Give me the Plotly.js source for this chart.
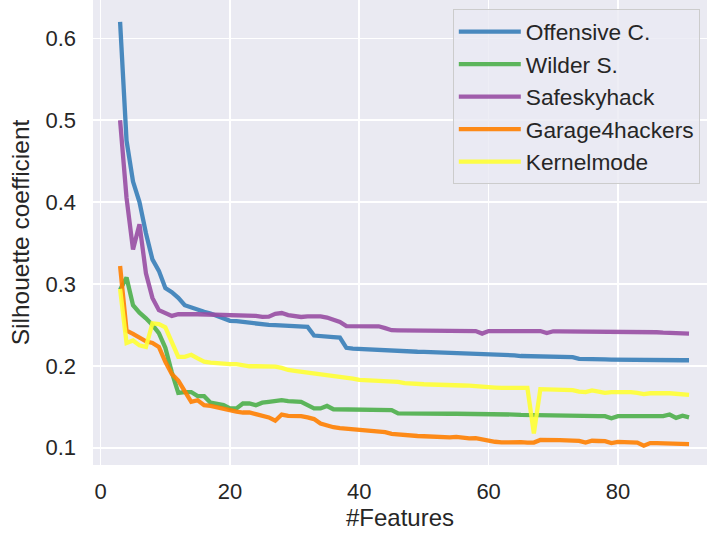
<!DOCTYPE html>
<html>
<head>
<meta charset="utf-8">
<script src="https://cdn.plot.ly/plotly-3.0.1.min.js"></script>
<style>html,body{margin:0;padding:0;background:#fff;}#chart{width:707px;height:535px;}</style>
</head>
<body>
<div id="chart"></div>
<script>
// #Features (x)
const features = [3,4,5,6,7,8,9,10,11,12,13,14,15,16,17,18,19,20,21,22,23,24,25,26,27,28,29,30,31,32,33,34,35,36,37,38,39,40,41,42,43,44,45,46,47,48,49,50,51,52,53,54,55,56,57,58,59,60,61,62,63,64,65,66,67,68,69,70,71,72,73,74,75,76,77,78,79,80,81,82,83,84,85,86,87,88,89,90,91];

const seriesNames = ['Offensive C.', 'Wilder S.', 'Safeskyhack', 'Garage4hackers', 'Kernelmode'];

const offensiveC = [0.620,0.475,0.425,0.400,0.362,0.330,0.316,0.295,0.290,0.283,
0.274,0.271,0.268,0.266,0.264,0.261,0.258,0.255,0.2545,0.2535,
0.2525,0.251,0.2505,0.250,0.2498,0.2495,0.249,0.2485,0.248,0.2475,
0.237,0.236,0.2355,0.235,0.2345,0.222,0.221,0.2205,0.220,0.2198,
0.2192,0.219,0.2188,0.2185,0.2178,0.2175,0.2172,0.217,0.2168,0.2165,
0.216,0.2157,0.2155,0.2155,0.2152,0.2148,0.2145,0.2142,0.214,0.2135,
0.213,0.2128,0.212,0.2118,0.2115,0.2113,0.2112,0.211,0.211,0.2108,
0.2107,0.2085,0.208,0.208,0.208,0.2078,0.2077,0.2075,0.2075,0.2073,
0.2073,0.2072,0.207,0.207,0.207,0.2069,0.2069,0.2068,0.2068];

const wilderS = [0.293,0.308,0.274,0.265,0.258,0.250,0.240,0.222,0.192,0.167,
0.168,0.168,0.163,0.163,0.155,0.154,0.152,0.148,0.148,0.154,
0.154,0.152,0.155,0.156,0.157,0.158,0.157,0.156,0.156,0.152,
0.148,0.148,0.151,0.147,0.147,0.147,0.147,0.147,0.147,0.147,
0.147,0.147,0.146,0.142,0.1418,0.1418,0.1415,0.1415,0.1415,0.1415,
0.1415,0.1415,0.1415,0.1415,0.1415,0.1415,0.1415,0.1415,0.141,0.141,
0.1405,0.1405,0.140,0.140,0.1398,0.1396,0.1395,0.1393,0.139,0.139,
0.139,0.1388,0.1388,0.1387,0.1387,0.1386,0.136,0.1386,0.1387,0.1387,
0.1386,0.1386,0.1385,0.1386,0.1386,0.1406,0.1365,0.139,0.137];

const safeskyhack = [0.500,0.405,0.342,0.373,0.313,0.283,0.268,0.264,0.261,0.263,
0.2635,0.263,0.263,0.2628,0.2625,0.262,0.262,0.2618,0.2618,0.2616,
0.2617,0.261,0.2598,0.260,0.2635,0.2645,0.262,0.2605,0.2597,0.2605,
0.2605,0.2605,0.259,0.2565,0.2535,0.2485,0.2483,0.2483,0.2483,0.2483,
0.2483,0.246,0.2435,0.2434,0.2434,0.2434,0.2434,0.2434,0.2434,0.2425,
0.2422,0.2425,0.2425,0.2425,0.2425,0.2425,0.2394,0.2425,0.2425,0.2425,
0.2425,0.2425,0.2425,0.2425,0.2425,0.2425,0.240,0.2422,0.2422,0.2422,
0.2422,0.2422,0.2422,0.2422,0.2422,0.2422,0.2422,0.2422,0.2421,0.242,
0.2418,0.2415,0.2413,0.241,0.2405,0.2402,0.240,0.2397,0.2394];

const garage4hackers = [0.322,0.243,0.239,0.234,0.230,0.228,0.223,0.205,0.190,0.182,
0.168,0.156,0.158,0.152,0.151,0.149,0.147,0.145,0.144,0.143,
0.143,0.141,0.139,0.137,0.133,0.1405,0.139,0.139,0.1385,0.137,
0.135,0.1295,0.127,0.125,0.124,0.1233,0.123,0.1225,0.121,0.1198,
0.1195,0.119,0.117,0.116,0.115,0.1145,0.1143,0.114,0.1135,0.1138,
0.113,0.1127,0.1133,0.112,0.1115,0.1117,0.1102,0.108,0.1073,0.1065,
0.1068,0.1065,0.1068,0.1063,0.1063,0.1095,0.1098,0.1095,0.1093,0.109,
0.1085,0.1083,0.1063,0.1085,0.1082,0.108,0.1057,0.107,0.1068,0.1065,
0.1062,0.1025,0.1057,0.1055,0.1052,0.1052,0.105,0.1048,0.1045];

const kernelmode = [0.294,0.228,0.231,0.225,0.223,0.252,0.251,0.247,0.229,0.211,
0.211,0.2135,0.209,0.205,0.204,0.203,0.2025,0.202,0.202,0.2005,
0.1995,0.1995,0.1995,0.1995,0.199,0.1975,0.195,0.194,0.193,0.1925,
0.191,0.1905,0.1895,0.1885,0.1878,0.1865,0.1845,0.1828,0.1825,0.182,
0.1815,0.1812,0.181,0.1803,0.179,0.1782,0.1776,0.1775,0.1772,0.1772,
0.177,0.1766,0.1762,0.176,0.1758,0.1755,0.1753,0.175,0.1735,0.173,
0.173,0.173,0.173,0.173,0.1175,0.1715,0.1712,0.171,0.1708,0.1705,
0.1703,0.1685,0.168,0.170,0.1685,0.167,0.1678,0.168,0.168,0.1678,
0.167,0.1654,0.1665,0.167,0.1668,0.1665,0.166,0.1646,0.1646];

const xTickVals = [0, 20, 40, 60, 80];
const yTickVals = [0.1, 0.2, 0.3, 0.4, 0.5, 0.6];
const yTickText = ['0.1', '0.2', '0.3', '0.4', '0.5', '0.6'];

const seriesValues = [offensiveC, wilderS, safeskyhack, garage4hackers, kernelmode];
const colors = ['#377eb8', '#4daf4a', '#984ea3', '#ff7f00', '#ffff33'];

const traces = seriesNames.map((name, i) => ({
  type: 'scatter',
  mode: 'lines',
  name: name,
  legendgroup: 'g' + i,
  x: features,
  y: seriesValues[i],
  opacity: 0.9,
  line: {color: colors[i], width: 4.3}
}));

const FONT = '"Liberation Sans", Arial, sans-serif';

const layout = {
  width: 707,
  height: 535,
  paper_bgcolor: '#ffffff',
  plot_bgcolor: '#eaeaf2',
  margin: {l: 93, r: 0, t: 0, b: 70, pad: 0, autoexpand: false},
  font: {family: FONT, color: '#262626'},
  showlegend: true,
  xaxis: {
    range: [-1.19, 93.78],
    tickvals: xTickVals,
    ticks: '',
    showline: false,
    zeroline: false,
    showgrid: true,
    gridcolor: '#ffffff',
    gridwidth: 1.6,
    tickfont: {size: 22, family: FONT, color: '#262626'},
    ticklabelstandoff: 11,
    title: {text: '#Features', font: {size: 24, family: FONT, color: '#262626'}, standoff: 6}
  },
  yaxis: {
    range: [0.0789, 0.6468],
    tickvals: yTickVals,
    ticktext: yTickText,
    ticks: '',
    showline: false,
    zeroline: false,
    showgrid: true,
    gridcolor: '#ffffff',
    gridwidth: 1.6,
    tickfont: {size: 22, family: FONT, color: '#262626'},
    ticklabelstandoff: 16,
    title: {text: 'Silhouette coefficient', font: {size: 24.5, family: FONT, color: '#262626'}, standoff: 8}
  },
  legend: {
    x: 0.586,
    y: 0.98,
    xanchor: 'left',
    yanchor: 'top',
    bgcolor: 'rgba(234,234,242,0.8)',
    bordercolor: '#cccccc',
    borderwidth: 1,
    font: {size: 22.7, family: FONT, color: '#262626'},
    traceorder: 'grouped',
    tracegroupgap: 0,
    itemwidth: 62
  }
};

Plotly.newPlot('chart', traces, layout, {displayModeBar: false, staticPlot: true});
</script>
</body>
</html>
